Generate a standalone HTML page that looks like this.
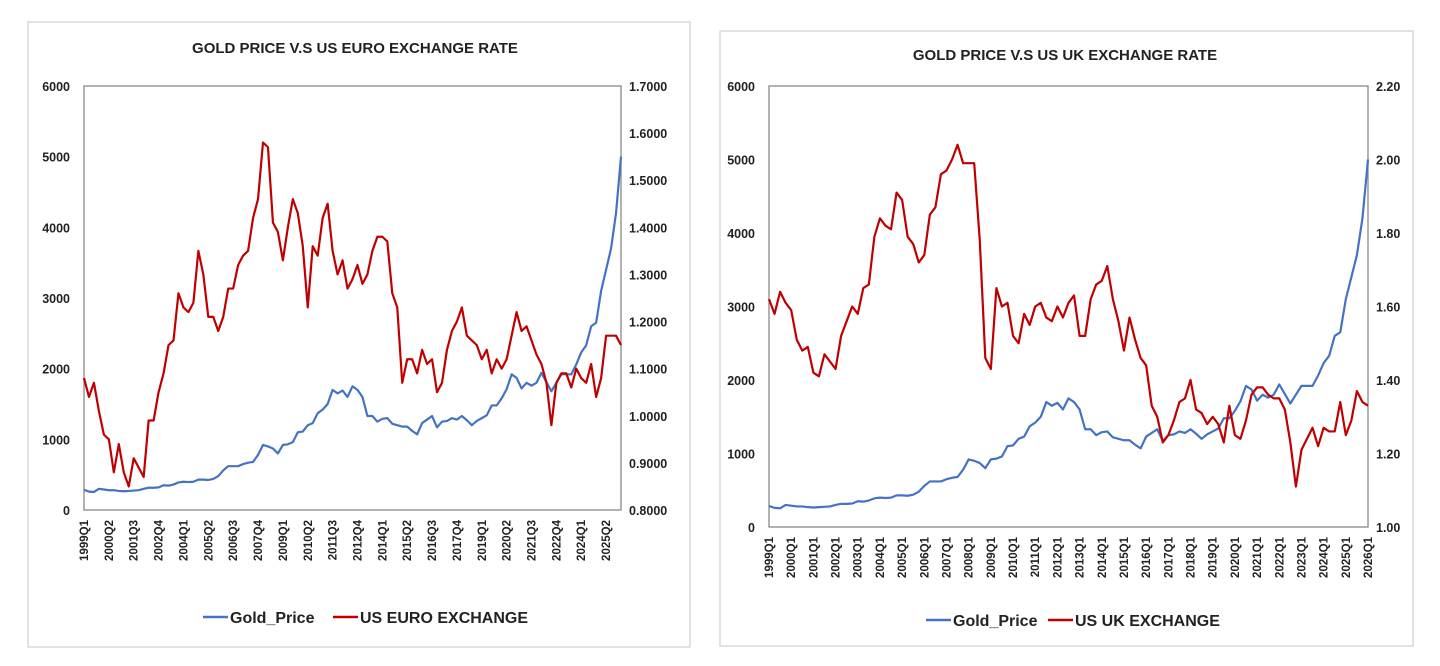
<!DOCTYPE html>
<html><head><meta charset="utf-8"><style>
html,body{margin:0;padding:0;background:#fff;width:1440px;height:666px;overflow:hidden}
svg text{font-family:"Liberation Sans",sans-serif;font-weight:bold;fill:#222}
</style></head><body>
<svg id="svg" width="1440" height="666" viewBox="0 0 1440 666" xmlns="http://www.w3.org/2000/svg"></svg>
<script>
const gold=[287,260,255,300,290,280,280,270,265,270,275,280,300,315,315,320,350,345,360,390,400,395,400,430,430,425,440,480,560,620,620,620,650,670,680,780,920,900,870,800,920,930,960,1100,1110,1200,1230,1370,1420,1500,1700,1650,1690,1600,1750,1700,1600,1330,1330,1250,1290,1300,1220,1200,1180,1180,1120,1070,1230,1280,1330,1170,1250,1260,1300,1280,1330,1270,1200,1260,1300,1340,1480,1480,1580,1710,1920,1870,1720,1800,1760,1800,1940,1810,1680,1800,1920,1920,1920,2060,2230,2330,2600,2650,3100,3400,3700,4200,5000];
const euro=[1.08,1.04,1.07,1.01,0.96,0.95,0.88,0.94,0.88,0.85,0.91,0.89,0.87,0.99,0.99,1.05,1.09,1.15,1.16,1.26,1.23,1.22,1.24,1.35,1.30,1.21,1.21,1.18,1.21,1.27,1.27,1.32,1.34,1.35,1.42,1.46,1.58,1.57,1.41,1.39,1.33,1.40,1.46,1.43,1.36,1.23,1.36,1.34,1.42,1.45,1.35,1.30,1.33,1.27,1.29,1.32,1.28,1.30,1.35,1.38,1.38,1.37,1.26,1.23,1.07,1.12,1.12,1.09,1.14,1.11,1.12,1.05,1.07,1.14,1.18,1.20,1.23,1.17,1.16,1.15,1.12,1.14,1.09,1.12,1.10,1.12,1.17,1.22,1.18,1.19,1.16,1.13,1.11,1.07,0.98,1.07,1.09,1.09,1.06,1.10,1.08,1.07,1.11,1.04,1.08,1.17,1.17,1.17,1.15];
const pound=[1.62,1.58,1.64,1.61,1.59,1.51,1.48,1.49,1.42,1.41,1.47,1.45,1.43,1.52,1.56,1.60,1.58,1.65,1.66,1.79,1.84,1.82,1.81,1.91,1.89,1.79,1.77,1.72,1.74,1.85,1.87,1.96,1.97,2.00,2.04,1.99,1.99,1.99,1.78,1.46,1.43,1.65,1.60,1.61,1.52,1.50,1.58,1.55,1.60,1.61,1.57,1.56,1.60,1.57,1.61,1.63,1.52,1.52,1.62,1.66,1.67,1.71,1.62,1.56,1.48,1.57,1.51,1.46,1.44,1.33,1.30,1.23,1.25,1.29,1.34,1.35,1.40,1.32,1.31,1.28,1.30,1.28,1.23,1.33,1.25,1.24,1.29,1.36,1.38,1.38,1.36,1.35,1.35,1.32,1.23,1.11,1.21,1.24,1.27,1.22,1.27,1.26,1.26,1.34,1.25,1.29,1.37,1.34,1.33];
const leftTicks=[0,1000,2000,3000,4000,5000,6000];
const euroTicks=["0.8000","0.9000","1.0000","1.1000","1.2000","1.3000","1.4000","1.5000","1.6000","1.7000"];
const poundTicks=["1.00","1.20","1.40","1.60","1.80","2.00","2.20"];
const quarters=[];for(let y=1999;y<=2026;y++)for(let q=1;q<=4;q++)if(quarters.length<gold.length)quarters.push(y+"Q"+q);

const svg=document.getElementById('svg');const NS='http://www.w3.org/2000/svg';
function mk(tag,attrs,parent,txt){const e=document.createElementNS(NS,tag);for(const k in attrs)e.setAttribute(k,attrs[k]);if(txt!==undefined)e.textContent=txt;(parent||svg).appendChild(e);return e;}

function chart(cfg){
  const g=mk('g',{});
  
  
  const bg=mk('rect',{x:cfg.px,y:cfg.py,width:cfg.pw,height:cfg.ph,fill:'#fff',stroke:'#d9d9d9','stroke-width':1.5},g);
  
  
  const t=mk('text',{x:cfg.tx,y:cfg.ty,'text-anchor':'middle','font-size':15},g,cfg.title);
  
  
  const X0=cfg.x0,X1=cfg.x1,Y0=cfg.y0,Y1=cfg.y1,n=gold.length;
  const xs=i=>X0+(X1-X0)*i/(n-1);
  const yl=v=>Y1-(v-0)/(6000)*(Y1-Y0);
  const rmin=+cfg.rt[0],rmax=+cfg.rt[cfg.rt.length-1];
  const yr=v=>Y1-(v-rmin)/(rmax-rmin)*(Y1-Y0);
  const fr=mk('rect',{x:X0,y:Y0,width:X1-X0,height:Y1-Y0,fill:'none',stroke:'#888','stroke-width':1.3},g);
  
  
  leftTicks.forEach(v=>{const e=mk('text',{x:X0-14,y:yl(v)+5,'text-anchor':'end','font-size':12.5},g,v);
    
    });
  cfg.rt.forEach(v=>{const e=mk('text',{x:X1+8,y:yr(+v)+5,'text-anchor':'start','font-size':12.5},g,v);
    
    });
  quarters.forEach((q,i)=>{if(i%cfg.step)return;const x=xs(i)+4,y=Y1+10;
    const e=mk('text',{x:x,y:y,transform:`rotate(-90 ${x} ${y})`,'text-anchor':'end','font-size':11.5},g,q);
    
    });
  const gp=mk('polyline',{points:gold.map((v,i)=>xs(i)+','+yl(v)).join(' '),fill:'none',stroke:'#4472c4','stroke-width':2.2,'stroke-linejoin':'round'},g);
  
  
  const rp=mk('polyline',{points:cfg.series.map((v,i)=>xs(i)+','+yr(v)).join(' '),fill:'none',stroke:'#c00000','stroke-width':2.2,'stroke-linejoin':'round'},g);
  
  
  const lg=mk('g',{},g);
  
  
  const le1=mk('g',{},lg);
  
  
  mk('line',{x1:cfg.lx,y1:cfg.ly,x2:cfg.lx+25,y2:cfg.ly,stroke:'#4472c4','stroke-width':2.5},le1);
  mk('text',{x:cfg.lx+27,y:cfg.ly+6,'font-size':16},le1,'Gold_Price');
  const le2=mk('g',{},lg);
  
  
  mk('line',{x1:cfg.lx2,y1:cfg.ly,x2:cfg.lx2+25,y2:cfg.ly,stroke:'#c00000','stroke-width':2.5},le2);
  mk('text',{x:cfg.lx2+27,y:cfg.ly+6,'font-size':16},le2,cfg.legend);
}
chart({name:'euro-chart',px:28,py:22,pw:662,ph:625,tx:355,ty:53,title:'GOLD PRICE V.S US EURO EXCHANGE RATE',
  x0:84,x1:621,y0:86,y1:510,rt:euroTicks,step:5,series:euro,seriesName:'euro-exchange-line',
  lx:203,lx2:333,ly:617,legend:'US EURO EXCHANGE'});
chart({name:'uk-chart',px:720,py:31,pw:693,ph:615,tx:1065,ty:60,title:'GOLD PRICE V.S US UK EXCHANGE RATE',
  x0:769,x1:1368,y0:86,y1:527,rt:poundTicks,step:4,series:pound,seriesName:'uk-exchange-line',
  lx:926,lx2:1048,ly:620,legend:'US UK EXCHANGE'});
</script>
</body></html>
